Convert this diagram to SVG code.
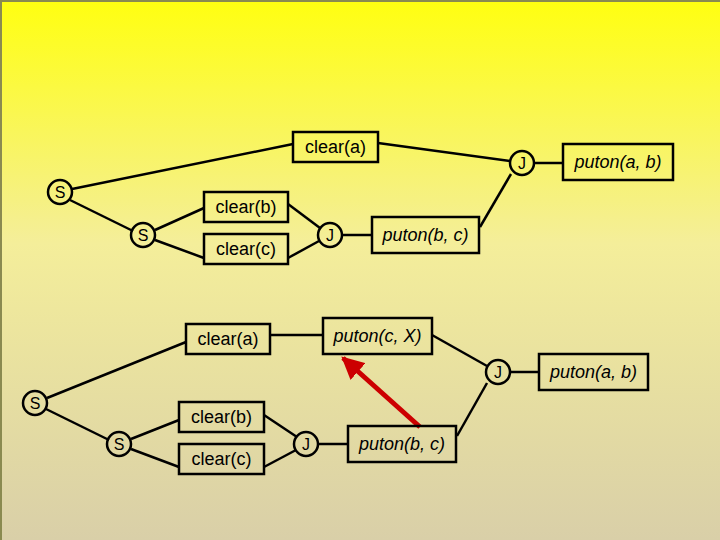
<svg xmlns="http://www.w3.org/2000/svg" width="720" height="540" viewBox="0 0 720 540">
<defs>
<linearGradient id="bg" x1="0" y1="0" x2="0" y2="1">
<stop offset="0" stop-color="#ffff10"/>
<stop offset="0.45" stop-color="#f4ee9a"/>
<stop offset="1" stop-color="#d9cfa8"/>
</linearGradient>
<marker id="ah" viewBox="0 0 10 10" refX="9" refY="5" markerWidth="4.5" markerHeight="4.5" orient="auto" markerUnits="strokeWidth">
<path d="M0,0 L10,5 L0,10 z" fill="#cc0000"/>
</marker>
<style>
.box{fill:none;stroke:#000;stroke-width:2.5}
.cir{fill:none;stroke:#000;stroke-width:2.5}
.t{font-family:"Liberation Sans",Arial,sans-serif;font-size:18px;fill:#000;text-anchor:middle;dominant-baseline:central}
.c{font-size:16px}
.i{font-style:italic}
.ln{stroke:#000;stroke-width:2.5;fill:none}
</style>
</defs>
<rect x="0" y="0" width="720" height="540" fill="url(#bg)"/>
<path d="M1,540 V1 H720" fill="none" stroke="#8a8a50" stroke-width="2"/>
<g id="connectors">
<line class="ln" x1="72" y1="189" x2="293" y2="144"/>
<line class="ln" x1="70" y1="200" x2="133" y2="231"/>
<line class="ln" x1="155" y1="230" x2="204" y2="208"/>
<line class="ln" x1="155" y1="240" x2="204" y2="258"/>
<line class="ln" x1="288" y1="204" x2="320" y2="228"/>
<line class="ln" x1="288" y1="258" x2="319" y2="241"/>
<line class="ln" x1="342" y1="235" x2="372" y2="235"/>
<line class="ln" x1="378" y1="143" x2="510" y2="161"/>
<line class="ln" x1="480" y1="227" x2="511" y2="174"/>
<line class="ln" x1="534" y1="163" x2="563" y2="163"/>
<line class="ln" x1="47" y1="398" x2="186" y2="342"/>
<line class="ln" x1="46" y1="409" x2="109" y2="440"/>
<line class="ln" x1="131" y1="439" x2="179" y2="420"/>
<line class="ln" x1="131" y1="449" x2="179" y2="467"/>
<line class="ln" x1="264" y1="415" x2="297" y2="437"/>
<line class="ln" x1="264" y1="467" x2="296" y2="450"/>
<line class="ln" x1="318" y1="444" x2="348" y2="444"/>
<line class="ln" x1="270" y1="335" x2="323" y2="335"/>
<line class="ln" x1="432" y1="335" x2="487" y2="366"/>
<line class="ln" x1="457" y1="436" x2="487" y2="383"/>
<line class="ln" x1="510" y1="372" x2="539" y2="372"/>
<line x1="420" y1="427" x2="343" y2="358" stroke="#cc0000" stroke-width="5" marker-end="url(#ah)"/>
</g>
<g id="S1"><circle class="cir" cx="60" cy="192" r="12"/><text class="t c" x="60" y="192">S</text></g>
<g id="S2"><circle class="cir" cx="143" cy="235" r="12"/><text class="t c" x="143" y="235">S</text></g>
<g id="clear_a_1"><rect class="box" x="293" y="132" width="85" height="30"/><text class="t" x="335.5" y="147">clear(a)</text></g>
<g id="clear_b_1"><rect class="box" x="204" y="192" width="84" height="30"/><text class="t" x="246" y="207">clear(b)</text></g>
<g id="clear_c_1"><rect class="box" x="204" y="234" width="84" height="30"/><text class="t" x="246" y="249">clear(c)</text></g>
<g id="J1"><circle class="cir" cx="330" cy="235" r="12"/><text class="t c" x="330" y="235">J</text></g>
<g id="puton_bc_1"><rect class="box" x="372" y="217" width="107" height="36"/><text class="t i" x="425.5" y="235">puton(b, c)</text></g>
<g id="J2"><circle class="cir" cx="522" cy="163" r="12"/><text class="t c" x="522" y="163">J</text></g>
<g id="puton_ab_1"><rect class="box" x="563" y="144" width="110" height="36"/><text class="t i" x="618" y="162">puton(a, b)</text></g>
<g id="S3"><circle class="cir" cx="35" cy="403" r="12"/><text class="t c" x="35" y="403">S</text></g>
<g id="S4"><circle class="cir" cx="119" cy="444" r="12"/><text class="t c" x="119" y="444">S</text></g>
<g id="clear_a_2"><rect class="box" x="186" y="324" width="84" height="30"/><text class="t" x="228" y="339">clear(a)</text></g>
<g id="clear_b_2"><rect class="box" x="179" y="402" width="85" height="30"/><text class="t" x="221.5" y="417">clear(b)</text></g>
<g id="clear_c_2"><rect class="box" x="179" y="444" width="85" height="30"/><text class="t" x="221.5" y="459">clear(c)</text></g>
<g id="J3"><circle class="cir" cx="306" cy="444" r="12"/><text class="t c" x="306" y="444">J</text></g>
<g id="puton_bc_2"><rect class="box" x="348" y="426" width="108" height="36"/><text class="t i" x="402" y="444">puton(b, c)</text></g>
<g id="puton_cX"><rect class="box" x="323" y="318" width="109" height="36"/><text class="t i" x="377.5" y="336">puton(c, X)</text></g>
<g id="J4"><circle class="cir" cx="498" cy="372" r="12"/><text class="t c" x="498" y="372">J</text></g>
<g id="puton_ab_2"><rect class="box" x="539" y="354" width="109" height="36"/><text class="t i" x="593.5" y="372">puton(a, b)</text></g>
</svg>
